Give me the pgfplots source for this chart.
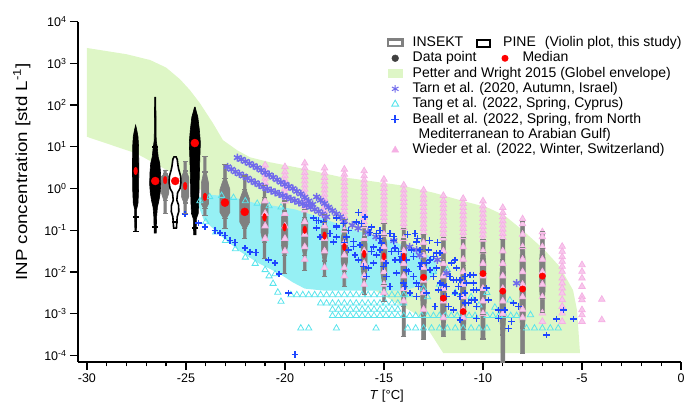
\documentclass[border=0pt]{standalone}
\usepackage{fontspec}
\setmainfont{Liberation Sans}
\usepackage{pgfplots}
\pgfplotsset{compat=1.18}
\definecolor{envgreen}{RGB}{222,246,198}
\definecolor{vgray}{RGB}{128,128,128}
\definecolor{tarncol}{RGB}{112,106,236}
\definecolor{tangcol}{RGB}{90,228,236}
\definecolor{tangfill}{RGB}{150,240,244}
\definecolor{beallcol}{RGB}{30,70,255}
\definecolor{wiedcol}{RGB}{245,176,228}
\definecolor{dgray}{RGB}{64,64,64}

% gray INSEKT violin: x, bottom, top, median, body half width, tail half width (log10 units on y)
\newcommand\gviol[6]{%
  \pgfmathsetmacro\vya{(#4)-0.62*((#4)-(#2))}%
  \pgfmathsetmacro\vyb{(#4)-0.38*((#4)-(#2))}%
  \pgfmathsetmacro\vyc{(#4)+0.35*((#3)-(#4))}%
  \pgfmathsetmacro\vyd{(#4)+0.62*((#3)-(#4))}%
  \pgfmathsetmacro\vxl{(#1)-(#5)}\pgfmathsetmacro\vxr{(#1)+(#5)}%
  \pgfmathsetmacro\vtl{(#1)-(#6)}\pgfmathsetmacro\vtr{(#1)+(#6)}%
  \addplot[forget plot,fill=vgray,draw=vgray,line width=0.6pt] coordinates {(\vtl,#2)(\vtl,\vya)(\vxl,\vyb)(\vxl,\vyc)(\vtl,\vyd)(\vtl,#3)(\vtr,#3)(\vtr,\vyd)(\vxr,\vyc)(\vxr,\vyb)(\vtr,\vya)(\vtr,#2)} -- cycle;
  \addplot[forget plot,only marks,mark=-,mark size=2.6pt,vgray,line width=1.2pt] coordinates {(#1,#2)(#1,\vya)(#1,\vyd)(#1,#3)};
}

\begin{document}
\begin{tikzpicture}
\path[use as bounding box] (-78pt,-41pt) rectangle (609pt,362pt);
\begin{axis}[
  scale only axis, width=603pt, height=340.3pt,
  xmin=-30.45, xmax=0, ymin=-4.16, ymax=4,
  axis x line*=bottom, axis y line*=left,
  axis line style={line width=1.3pt},
  xtick={-30,-25,-20,-15,-10,-5,0},
  xticklabels={-30,-25,-20,-15,-10,-5,0},
  minor x tick num=4,
  ytick={-4,-3,-2,-1,0,1,2,3,4},
  yticklabels={10\textsuperscript{-4},10\textsuperscript{-3},10\textsuperscript{-2},10\textsuperscript{-1},10\textsuperscript{0},10\textsuperscript{1},10\textsuperscript{2},10\textsuperscript{3},10\textsuperscript{4}},
  tick align=outside, major tick length=8pt, minor tick length=4.5pt,
  every tick/.style={black,line width=1.3pt},
  tick label style={font=\fontsize{12.5}{14}\selectfont},
  xlabel={\textit{T} [°C]},
  xlabel style={at={(axis description cs:0.512,-0.1)},anchor=center,font=\fontsize{13}{15}\selectfont},
  ylabel={INP concentration [std L\textsuperscript{-1}]},
  ylabel style={at={(axis description cs:-0.093,0.558)},anchor=center,font=\fontsize{16}{18}\selectfont,xscale=1.17},
  legend style={at={(axis description cs:0.5119,0.960)},anchor=north west,draw=none,fill=none,
    inner sep=0pt,outer sep=0pt,row sep=0pt,font=\fontsize{14}{16}\selectfont,
    nodes={inner sep=0pt,text height=11.3pt,text depth=4pt},
    /tikz/every odd column/.append style={column sep=9pt}},
  legend cell align=left,
]
% ---------- legend ----------
\addlegendimage{legend image code/.code={\draw[vgray,line width=2.2pt] (1.1pt,-3.4pt) rectangle (15.9pt,3.4pt);}}
\addlegendentry{INSEKT\hspace{13pt}\tikz[baseline=0pt]{\draw[black,line width=2.2pt] (0,0) rectangle (12.8pt,6.8pt);}\hspace{12pt}PINE\hspace{9pt}(Violin plot, this study)}
\addlegendimage{only marks,mark=*,color=dgray,mark size=3.4pt}
\addlegendentry{Data point\hspace{25pt}\tikz[baseline=0pt]{\fill[red] (0,3.6pt) circle (3.5pt);}\hspace{14pt}Median}
\addlegendimage{legend image code/.code={\fill[envgreen] (1.5pt,-4pt) rectangle (15.5pt,4pt);}}
\addlegendentry{Petter and Wright 2015 (Globel envelope)}
\addlegendimage{only marks,mark=asterisk,color=tarncol,mark size=3.8pt,line width=1pt}
\addlegendentry{Tarn et al. (2020, Autumn, Israel)}
\addlegendimage{only marks,mark=triangle,color=tangcol,mark size=4pt,line width=0.9pt}
\addlegendentry{Tang et al. (2022, Spring, Cyprus)}
\addlegendimage{legend image code/.code={\draw[beallcol,line width=1.6pt] (4.5pt,0pt) -- (12.5pt,0pt) (8.5pt,-4pt) -- (8.5pt,4pt);}}
\addlegendentry{Beall et al. (2022, Spring, from North}
\addlegendimage{empty legend}
\addlegendentry{\hspace*{6pt}Mediterranean to Arabian Gulf)}
\addlegendimage{only marks,mark=triangle*,color=wiedcol,mark size=4pt}
\addlegendentry{Wieder et al. (2022, Winter, Switzerland)}

% ---------- Petter and Wright envelope (log10 values) ----------
\addplot[forget plot,fill=envgreen,draw=none] coordinates {
 (-30,3.37)(-28,3.22)(-26.8,3.08)(-26,2.9)(-25.3,2.62)(-24.8,2.36)(-24.3,2.05)
 (-23.64,1.57)(-23.13,1.16)(-22.42,0.92)(-21.77,0.75)(-20.76,0.63)(-19.24,0.49)
 (-17.22,0.28)(-14.19,0.08)(-12.5,-0.1)(-11,-0.30)(-9.8,-0.45)(-8.9,-0.65)(-8,-1.0)
 (-6.9,-1.47)(-6.11,-1.88)(-5.45,-2.44)(-5.25,-2.92)(-5.1,-3.95)(-12,-3.95)
 (-13.2,-3.06)(-16,-2.3)(-19,-1.47)(-22,-0.65)(-25.8,0.40)(-27.5,0.84)(-30,1.24)} -- cycle;

% ---------- Tang et al. ----------
\addplot[forget plot,fill=tangfill,draw=none] coordinates {
 (-24.5,-0.25)(-23.8,-0.15)(-23.0,-0.18)(-22.3,-0.25)(-21.5,-0.35)(-20.5,-0.42)
 (-19.5,-0.5)(-18.3,-0.68)(-16.6,-0.98)(-14.9,-1.22)(-13.4,-1.45)(-12.4,-1.7)
 (-12.3,-2.0)(-13.0,-2.3)(-14.0,-2.45)(-16,-2.45)(-18,-2.45)(-19.0,-2.4)(-19.6,-2.25)
 (-20.25,-2.05)(-21.3,-1.8)(-22.3,-1.5)(-23.2,-1.15)(-24.1,-0.75)} -- cycle;
\addplot[forget plot,only marks,mark=triangle,mark size=3.6pt,color=tangcol,line width=0.8pt] table {
x y
-24.3 -0.3
-23.8 -0.2
-23.2 -0.17
-22.6 -0.22
-22.0 -0.3
-21.4 -0.36
-20.8 -0.42
-20.2 -0.45
-24.0 -0.8
-23.5 -1.05
-23.0 -1.25
-22.5 -1.45
-22.0 -1.65
-21.5 -1.8
-21.0 -1.95
-20.5 -2.05
-20.8 -2.1
-20.6 -2.28
-20.36 -2.49
-20.2 -2.71
-19.7 -2.55
-19.4 -2.55
-19.1 -2.55
-18.8 -2.55
-18.5 -2.55
-18.2 -2.55
-17.9 -2.55
-17.6 -2.55
-17.3 -2.55
-17.0 -2.55
-16.7 -2.55
-16.4 -2.55
-16.1 -2.55
-15.8 -2.55
-15.5 -2.55
-15.2 -2.55
-14.9 -2.55
-14.6 -2.55
-14.3 -2.55
-14.0 -2.55
-13.7 -2.55
-18.2 -2.75
-17.9 -2.75
-17.6 -2.75
-17.3 -2.75
-17.0 -2.75
-16.7 -2.75
-16.4 -2.75
-16.1 -2.75
-15.8 -2.75
-15.5 -2.75
-15.2 -2.75
-14.9 -2.75
-14.6 -2.75
-14.3 -2.75
-14.0 -2.75
-17.6 -2.9
-17.3 -2.9
-17.0 -2.9
-16.7 -2.9
-16.4 -2.9
-16.1 -2.9
-15.8 -2.9
-15.5 -2.9
-15.2 -2.9
-14.9 -2.9
-14.6 -2.9
-14.3 -2.9
-17.6 -3.05
-17.3 -3.05
-17.0 -3.05
-16.7 -3.05
-16.4 -3.05
-16.1 -3.05
-15.8 -3.05
-15.5 -3.05
-15.2 -3.05
-14.9 -3.05
-14.6 -3.05
-14.3 -3.05
-14.0 -3.05
-13.7 -3.05
-13.4 -3.05
-13.1 -3.05
-12.8 -3.05
-12.5 -3.05
-12.2 -3.05
-11.9 -3.05
-11.6 -3.05
-11.3 -3.05
-11.0 -3.05
-10.7 -3.05
-10.4 -3.05
-9.8 -3.05
-9.5 -3.05
-9.2 -3.05
-8.9 -3.05
-8.6 -3.05
-8.3 -3.05
-19.2 -3.35
-18.8 -3.35
-17.4 -3.35
-15.4 -3.35
-13.8 -3.35
-13.4 -3.35
-13.0 -3.35
-12.6 -3.35
-12.2 -3.35
-11.8 -3.35
-11.4 -3.35
-11.0 -3.35
-10.6 -3.35
-10.2 -3.35
-9.8 -3.35
-7.8 -3.35
-7.4 -3.35
-7.0 -3.35
-6.6 -3.35
-6.2 -3.35
-8.64 -2.68
-7.6 -3.03
-12.5 -2.0
-12.2 -2.3
-11.8 -1.95
-11.4 -2.5
-11.0 -2.3
-10.6 -2.6
-10.2 -2.8
-9.8 -2.5
-9.4 -2.85
-12.8 -2.6
-13.0 -2.4
};

% ---------- Wieder et al. ----------
\addplot[forget plot,only marks,mark=triangle*,mark size=3.8pt,draw=wiedcol,fill=wiedcol!70,line width=0.7pt] table {
x y
-21 0.56
-21 0.44
-21 0.34
-21 0.24
-21 0.14
-21 0.04
-21 -0.3
-21 -0.6
-21 -0.9
-21 -1.2
-20 0.52
-20 0.40
-20 0.30
-20 0.20
-20 0.10
-20 0.0
-20 -0.10
-20 -0.20
-20 -0.30
-20 -0.6
-20 -0.9
-20 -1.2
-20 -1.5
-19 0.61
-19 0.49
-19 0.38
-19 0.28
-19 0.18
-19 0.08
-19 -0.02
-19 -0.12
-19 -0.22
-19 -0.32
-19 -0.42
-19 -0.52
-19 -0.8
-19 -1.1
-19 -1.4
-19 -1.7
-18 0.49
-18 0.37
-18 0.26
-18 0.16
-18 0.06
-18 -0.04
-18 -0.14
-18 -0.24
-18 -0.34
-18 -0.44
-18 -0.54
-18 -0.64
-18 -0.9
-18 -1.2
-18 -1.5
-18 -1.9
-17 0.46
-17 0.34
-17 0.24
-17 0.14
-17 0.04
-17 -0.06
-17 -0.16
-17 -0.26
-17 -0.36
-17 -0.46
-17 -0.56
-17 -0.66
-17 -0.76
-17 -1.0
-17 -1.3
-17 -1.6
-17 -1.9
-17 -2.1
-16 0.42
-16 0.30
-16 0.20
-16 0.10
-16 0.0
-16 -0.10
-16 -0.20
-16 -0.30
-16 -0.40
-16 -0.50
-16 -0.60
-16 -0.70
-16 -0.80
-16 -0.90
-16 -1.2
-16 -1.5
-16 -1.8
-16 -2.1
-16 -2.3
-15 0.22
-15 0.10
-15 0.0
-15 -0.10
-15 -0.20
-15 -0.30
-15 -0.40
-15 -0.50
-15 -0.60
-15 -0.70
-15 -0.80
-15 -1.1
-15 -1.4
-15 -1.7
-15 -2.0
-15 -2.3
-15 -2.5
-14 0.08
-14 -0.04
-14 -0.14
-14 -0.24
-14 -0.34
-14 -0.44
-14 -0.54
-14 -0.64
-14 -0.74
-14 -0.84
-14 -0.94
-14 -1.2
-14 -1.5
-14 -1.8
-14 -2.1
-14 -2.4
-14 -2.7
-13 -0.04
-13 -0.16
-13 -0.26
-13 -0.36
-13 -0.46
-13 -0.56
-13 -0.66
-13 -0.76
-13 -0.86
-13 -0.96
-13 -1.06
-13 -1.3
-13 -1.6
-13 -1.9
-13 -2.2
-13 -2.5
-13 -2.9
-12 -0.17
-12 -0.29
-12 -0.39
-12 -0.49
-12 -0.59
-12 -0.69
-12 -0.79
-12 -0.89
-12 -0.99
-12 -1.09
-12 -1.19
-12 -1.5
-12 -1.8
-12 -2.1
-12 -2.4
-12 -2.7
-12 -3.1
-11 -0.24
-11 -0.36
-11 -0.46
-11 -0.56
-11 -0.66
-11 -0.76
-11 -0.86
-11 -0.96
-11 -1.06
-11 -1.16
-11 -1.4
-11 -1.7
-11 -2.0
-11 -2.3
-11 -2.6
-11 -2.9
-11 -3.1
-10 -0.30
-10 -0.42
-10 -0.52
-10 -0.62
-10 -0.72
-10 -0.82
-10 -0.92
-10 -1.02
-10 -1.12
-10 -1.22
-10 -1.5
-10 -1.8
-10 -2.1
-10 -2.4
-10 -2.7
-10 -3.0
-9 -0.46
-9 -0.58
-9 -0.68
-9 -0.78
-9 -0.88
-9 -0.98
-9 -1.08
-9 -1.18
-9 -1.5
-9 -1.8
-9 -2.1
-9 -2.4
-9 -2.7
-9 -3.0
-8 -0.73
-8 -0.85
-8 -1.1
-8 -1.4
-8 -1.7
-8 -2.0
-8 -2.3
-8 -2.6
-8 -2.9
-8 -3.1
-7 -1.04
-7 -1.16
-7 -1.4
-7 -1.7
-7 -2.0
-7 -2.3
-7 -2.6
-7 -2.99
-7 -3.19
-6 -1.39
-6 -1.51
-6 -1.64
-6 -1.75
-6 -1.87
-6 -1.99
-6 -2.15
-6 -2.27
-6 -2.39
-6 -2.51
-6 -2.67
-6 -2.83
-6 -2.99
-6 -3.19
-5 -1.83
-5 -1.99
-5 -2.15
-5 -2.35
-5 -2.59
-5 -2.67
-5 -2.91
-5 -3.03
-5 -3.19
-4 -2.66
-4 -3.15
};

% ---------- Tarn et al. ----------
\addplot[forget plot,only marks,mark=asterisk,mark size=4pt,color=tarncol,line width=1.5pt] coordinates {
 (-22.4,0.74)(-22.2,0.70)(-22.0,0.65)(-21.8,0.60)(-21.6,0.55)(-21.4,0.50)(-21.2,0.44)
 (-21.0,0.38)(-20.8,0.33)(-20.6,0.27)(-20.4,0.21)(-20.2,0.15)(-20.0,0.10)(-19.8,0.05)
 (-19.6,0.00)(-19.4,-0.07)(-19.2,-0.13)(-19.0,-0.21)(-18.8,-0.30)(-18.6,-0.38)
 (-22.9,0.52)(-22.7,0.46)(-22.5,0.40)(-22.3,0.35)(-22.1,0.30)(-21.9,0.25)(-21.7,0.19)
 (-21.5,0.14)(-21.3,0.09)(-21.1,0.04)(-20.9,-0.01)(-20.7,-0.05)(-20.5,-0.09)(-20.3,-0.13)
 (-20.1,-0.17)(-19.9,-0.21)(-19.7,-0.25)(-19.5,-0.29)(-19.3,-0.33)(-19.1,-0.37)(-18.9,-0.41)
 (-18.7,-0.45)(-18.5,-0.50)(-18.3,-0.55)(-18.1,-0.61)(-17.9,-0.68)
 (-18.4,-0.20)(-18.2,-0.28)(-18.0,-0.36)(-17.8,-0.45)(-17.6,-0.53)(-17.4,-0.61)(-17.2,-0.68)
 (-17.0,-0.78)(-16.6,-0.88)(-16.3,-0.95)(-15.8,-1.05)(-15.4,-1.16)(-14.5,-1.25)(-13.7,-1.40)
 (-13.35,-1.47)(-13.2,-1.6)(-12.3,-1.71)(-11.83,-2.03)(-8.3,-2.27)};

% ---------- Beall et al. ----------
\addplot[forget plot,only marks,mark=+,mark size=3.3pt,draw=beallcol,mark options={draw=beallcol},line width=1.4pt] coordinates {
 (-25.05,-0.61)(-24.38,-0.83)(-24.04,-0.92)(-23.54,-1.0)(-23.28,-1.07)(-23.03,-1.12)
 (-22.78,-1.24)(-22.53,-1.30)(-22.02,-1.43)(-21.77,-1.52)(-21.46,-1.54)(-20.84,-1.71)
 (-20.51,-1.79)(-20.30,-2.05)(-19.83,-2.51)(-19.49,-3.98)
 (-18.57,-0.71)(-18.32,-0.76)(-17.39,-0.71)(-18.40,-0.95)(-18.23,-1.16)(-17.39,-1.16)(-17.56,-1.28)
 (-16.30,-0.58)(-16.38,-0.80)(-16.13,-0.84)(-15.96,-0.68)(-15.62,-0.92)(-15.37,-1.08)
 (-15.20,-1.20)(-14.70,-1.08)(-14.53,-1.24)(-14.44,-1.43)(-14.28,-1.51)(-14.11,-1.63)
 (-13.86,-1.71)(-13.60,-1.47)(-13.43,-1.08)(-13.35,-1.28)(-13.18,-1.47)(-13.10,-1.79)
 (-12.85,-1.79)(-12.68,-1.95)(-12.51,-2.11)(-12.34,-1.91)(-12.17,-2.27)(-11.84,-2.35)
 (-11.67,-2.11)(-11.41,-2.51)(-11.16,-2.59)(-10.91,-2.75)(-10.66,-2.07)(-10.49,-2.43)
 (-10.32,-2.83)(-18.06,-0.80)(-18.40,-0.76)(-17.73,-1.08)(-17.39,-0.92)
 (-17.05,-0.84)(-16.89,-1.16)(-16.80,-1.47)(-16.55,-1.39)(-16.30,-1.71)(-16.04,-1.87)
 (-15.88,-2.11)(-15.62,-1.51)(-15.54,-1.79)(-15.20,-1.47)(-15.03,-1.87)(-14.87,-2.11)
 (-14.70,-2.35)(-14.44,-1.71)(-14.36,-2.03)(-14.02,-2.27)(-13.86,-1.95)(-13.69,-2.51)
 (-13.52,-2.11)(-13.35,-2.59)(-13.27,-2.35)(-12.76,-1.47)(-12.51,-1.63)(-12.34,-1.55)
 (-12.26,-2.43)(-12.00,-2.59)(-11.75,-2.83)(-11.50,-2.91)(-11.16,-2.19)(-10.83,-2.27)
 (-10.57,-2.67)
 (-11.41,-1.71)(-11.33,-1.91)(-11.50,-2.19)(-11.25,-2.35)(-10.91,-2.11)(-10.49,-2.07)
 (-10.32,-2.43)(-10.40,-2.67)(-9.82,-2.39)(-9.73,-2.67)(-9.23,-2.91)(-8.89,-2.91)
 (-9.23,-3.11)(-8.47,-2.75)(-8.22,-2.83)(-8.72,-3.35)(-8.55,-3.19)(-6.78,-3.51)
 (-6.28,-3.13)(-5.44,-3.13)(-5.94,-2.91)
 (-16.55,-1.27)(-16.21,-1.35)(-16.46,-1.59)(-15.79,-1.91)(-15.54,-1.40)(-15.37,-1.59)
 (-15.12,-1.31)(-14.90,-1.79)(-14.61,-1.51)(-14.36,-2.03)(-14.19,-1.71)(-13.94,-2.35)
 (-13.77,-1.99)(-13.52,-1.63)(-13.35,-2.27)(-13.18,-1.87)(-12.84,-2.51)(-12.68,-1.71)
 (-12.51,-2.11)(-12.42,-2.83)(-12.17,-1.55)(-12.00,-2.31)(-11.83,-2.59)(-11.58,-1.79)
 (-11.50,-2.91)(-11.33,-2.19)(-11.16,-3.15)(-10.91,-2.51)(-10.74,-2.75)(-10.49,-2.27)
 (-10.32,-3.11)
 (-15.7,-1.05)(-15.2,-1.0)(-14.5,-1.15)(-13.8,-1.1)(-13.3,-1.2)(-12.7,-1.25)(-12.3,-1.3)
 (-17.4,-0.9)(-17.0,-1.3)(-16.8,-1.0)};

% ---------- INSEKT violins (gray) ----------
\gviol{-26.05}{-0.60}{0.44}{0.20}{0.19}{0.06}
\gviol{-25.04}{-0.60}{0.64}{0.06}{0.19}{0.06}
\gviol{-24.04}{-0.65}{0.76}{-0.20}{0.18}{0.06}
\gviol{-23.03}{-0.95}{0.58}{-0.34}{0.25}{0.07}
\gviol{-22.03}{-1.20}{0.30}{-0.56}{0.25}{0.07}
\gviol{-21.03}{-1.67}{0.08}{-0.69}{0.18}{0.07}
\gviol{-20.02}{-2.03}{-0.30}{-0.93}{0.16}{0.07}
\gviol{-19.0}{-1.97}{-0.51}{-0.99}{0.16}{0.07}
\gviol{-18.0}{-2.11}{-0.63}{-1.13}{0.16}{0.07}
\gviol{-17.0}{-2.35}{-0.75}{-1.40}{0.16}{0.07}
\gviol{-16.0}{-2.55}{-0.91}{-1.57}{0.15}{0.07}
\gviol{-15.0}{-2.71}{-0.83}{-1.63}{0.15}{0.07}
\gviol{-14.0}{-3.55}{-0.95}{-1.64}{0.14}{0.08}
\gviol{-13.0}{-3.62}{-1.11}{-2.13}{0.14}{0.1}
\gviol{-12.0}{-3.55}{-1.18}{-2.63}{0.14}{0.1}
\gviol{-11.0}{-3.63}{-1.18}{-2.95}{0.14}{0.1}
\gviol{-10.0}{-3.61}{-1.23}{-2.04}{0.14}{0.1}
\gviol{-9.0}{-4.16}{-1.23}{-2.46}{0.14}{0.1}
\gviol{-8.0}{-3.95}{-0.79}{-2.41}{0.14}{0.1}
\gviol{-7.0}{-2.98}{-1.03}{-2.10}{0.14}{0.1}

% ---------- PINE violins (black) ----------
\addplot[forget plot,fill=black,draw=black,line width=0.6pt] coordinates {
 (-27.54,1.52)(-27.60,1.40)(-27.66,1.24)(-27.69,1.0)(-27.70,0.5)(-27.69,0.0)(-27.66,-0.35)
 (-27.59,-0.5)(-27.58,-1.03)(-27.50,-1.03)(-27.49,-0.5)(-27.42,-0.35)(-27.39,0.0)
 (-27.38,0.5)(-27.39,1.0)(-27.42,1.24)(-27.48,1.40)} -- cycle;
\addplot[forget plot,fill=black,draw=black,line width=0.6pt] coordinates {
 (-26.58,2.19)(-26.60,1.16)(-26.66,0.95)(-26.70,0.76)(-26.78,0.6)(-26.82,0.35)(-26.83,0.1)
 (-26.80,-0.1)(-26.74,-0.28)(-26.66,-0.45)(-26.62,-0.68)(-26.60,-1.07)(-26.50,-1.07)
 (-26.48,-0.68)(-26.44,-0.45)(-26.36,-0.28)(-26.30,-0.1)(-26.27,0.1)(-26.28,0.35)
 (-26.32,0.6)(-26.40,0.76)(-26.44,0.95)(-26.50,1.16)(-26.52,2.19)} -- cycle;
\addplot[forget plot,fill=white,draw=black,line width=1.6pt] coordinates {
 (-25.60,0.76)(-25.66,0.70)(-25.70,0.55)(-25.74,0.45)(-25.83,0.30)(-25.85,0.15)(-25.80,0.0)
 (-25.68,-0.10)(-25.64,-0.28)(-25.73,-0.40)(-25.74,-0.55)(-25.66,-0.68)(-25.62,-0.95)
 (-25.48,-0.95)(-25.44,-0.68)(-25.36,-0.55)(-25.37,-0.40)(-25.46,-0.28)(-25.42,-0.10)
 (-25.30,0.0)(-25.25,0.15)(-25.27,0.30)(-25.36,0.45)(-25.40,0.55)(-25.44,0.70)(-25.50,0.76)} -- cycle;
\addplot[forget plot,fill=black,draw=black,line width=0.6pt] coordinates {
 (-24.57,1.95)(-24.62,1.85)(-24.70,1.72)(-24.78,1.4)(-24.83,1.1)(-24.80,0.7)(-24.77,0.2)
 (-24.75,-0.3)(-24.72,-0.6)(-24.63,-0.72)(-24.61,-1.11)(-24.49,-1.11)(-24.47,-0.72)
 (-24.38,-0.6)(-24.35,-0.3)(-24.33,0.2)(-24.30,0.7)(-24.27,1.1)(-24.32,1.4)(-24.40,1.72)
 (-24.48,1.85)(-24.53,1.95)} -- cycle;
\addplot[forget plot,only marks,mark=-,mark size=3pt,black,line width=1.4pt] coordinates {
 (-27.54,-0.68)(-27.54,-1.03)(-26.55,-0.92)(-26.55,1.0)(-25.55,-0.80)(-24.55,-0.95)};

% ---------- medians ----------
\addplot[forget plot,only marks,mark=*,mark size=4pt,red] coordinates {
 (-26.55,0.18)(-25.54,0.18)(-24.55,1.09)(-23.03,-0.34)(-22.03,-0.56)};
\addplot[forget plot,only marks,mark=*,mark size=3.8pt,red,mark options={xscale=0.5}] coordinates {
 (-27.54,0.42)(-26.05,0.20)(-25.04,0.06)(-24.04,-0.20)(-21.03,-0.69)(-20.02,-0.93)
 (-19.0,-0.99)(-18.0,-1.13)(-17.0,-1.40)(-16.0,-1.57)(-15.0,-1.63)(-14.0,-1.64)};
\addplot[forget plot,only marks,mark=*,mark size=3.2pt,red] coordinates {
 (-13.0,-2.13)(-12.0,-2.63)(-11.0,-2.95)(-10.0,-2.04)(-9.0,-2.46)(-8.0,-2.41)(-7.0,-2.10)};
\end{axis}
\end{tikzpicture}
\end{document}
